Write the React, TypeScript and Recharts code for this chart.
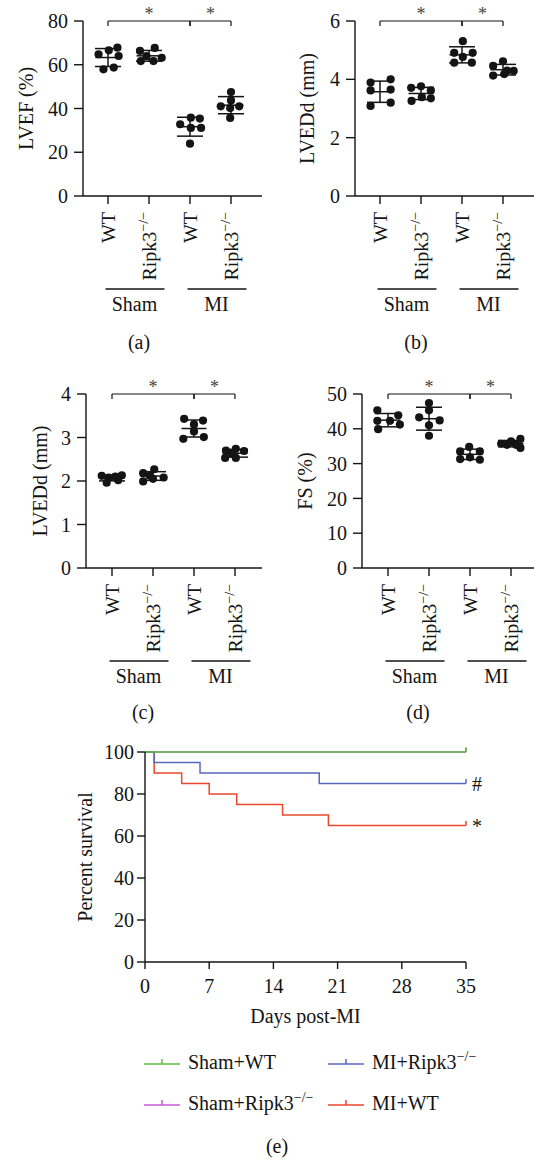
import React from "react";
import {
  ComposedChart,
  Scatter,
  ErrorBar,
  XAxis,
  YAxis,
  ReferenceLine,
  LineChart,
  Line,
  ReferenceDot,
} from "recharts";

const FONT = "'Liberation Serif', 'Times New Roman', serif";
const INK = "#141414";

// group order on every dot plot: Sham WT, Sham Ripk3, MI WT, MI Ripk3
const genotypes = ["WT", "Ripk3", "WT", "Ripk3"];
const conditions = ["Sham", "MI"];
const comparisons = [
  [1, 3],
  [3, 4],
];

// (a) LVEF %
const lvefValues = [
  [64.8, 66.6, 67.8, 64.0, 57.9, 58.7],
  [66.3, 67.7, 63.9, 63.2, 61.7, 61.7],
  [32.8, 35.8, 35.4, 31.1, 31.1, 23.9],
  [47.5, 43.7, 41.0, 41.0, 40.2, 35.7],
];
const lvefSpread = [
  [-0.23, 0.02, 0.23, 0.26, -0.11, 0.14],
  [-0.22, 0.14, -0.06, 0.31, -0.2, 0.11],
  [-0.24, 0.02, 0.24, 0.02, 0.27, 0.0],
  [0.0, 0.0, -0.25, 0.2, -0.02, -0.02],
];

// (b) LVEDd mm
const lvedValues = [
  [3.89, 4.0, 3.62, 3.65, 3.09, 3.2],
  [3.71, 3.76, 3.62, 3.26, 3.39, 3.35],
  [5.31, 4.91, 4.91, 4.77, 4.57, 4.57],
  [4.62, 4.46, 4.29, 4.13, 4.18, 4.3],
];
const lvedSpread = [
  [-0.23, 0.26, -0.23, 0.26, -0.23, 0.26],
  [-0.24, 0.0, 0.24, -0.23, 0.02, 0.24],
  [0.02, -0.19, 0.26, 0.02, -0.19, 0.24],
  [0.0, -0.24, 0.26, -0.24, 0.03, 0.1],
];

// (c) LVEDd mm
const lved2Values = [
  [2.12, 2.08, 2.1, 2.13, 1.96, 2.02],
  [2.18, 2.27, 2.12, 2.08, 1.99, 2.05],
  [3.43, 3.39, 3.3, 3.14, 2.97, 3.01],
  [2.7, 2.74, 2.69, 2.64, 2.53, 2.53],
];
const lved2Spread = [
  [-0.25, -0.08, 0.08, 0.24, -0.13, 0.15],
  [-0.24, 0.03, -0.08, 0.26, -0.24, 0.0],
  [-0.24, 0.22, 0.0, 0.0, -0.26, 0.24],
  [-0.22, 0.02, 0.22, -0.1, -0.24, 0.02],
];

// (d) FS %
const fsValues = [
  [45.3, 42.3, 39.9, 42.3, 43.9, 41.2],
  [47.4, 45.3, 43.3, 42.4, 41.0, 38.0],
  [34.8, 33.5, 33.5, 31.8, 31.3, 31.1],
  [35.7, 36.4, 37.1, 35.4, 35.4, 34.5],
];
const fsSpread = [
  [-0.26, -0.26, -0.24, 0.05, 0.25, 0.29],
  [0.0, 0.0, -0.24, 0.26, 0.0, 0.0],
  [-0.02, -0.24, 0.24, 0.0, -0.24, 0.24],
  [-0.24, 0.0, 0.23, -0.1, 0.12, 0.23],
];

// (e) survival
const dayTicks = [0, 7, 14, 21, 28, 35];
const survTicks = [0, 20, 40, 60, 80, 100];
const survivalSeries = [
  { name: "Sham+WT", sup: false, color: "#5cbf3f", days: [0, 35], surv: [100, 100], note: "" },
  { name: "Sham+Ripk3", sup: true, color: "#c45ad2", days: [0, 35], surv: [100, 100], note: "" },
  { name: "MI+Ripk3", sup: true, color: "#5868bd", days: [0, 1, 6, 19, 35], surv: [100, 95, 90, 85, 85], note: "#" },
  {
    name: "MI+WT",
    sup: false,
    color: "#e8482f",
    days: [0, 1, 4, 7, 10, 15, 20, 35],
    surv: [100, 90, 85, 80, 75, 70, 65, 65],
    note: "*",
  },
];
const drawOrder = [1, 3, 2, 0];

const mean = (a: number[]) => a.reduce((s, v) => s + v, 0) / a.length;
const sd = (a: number[]) => {
  const m = mean(a);
  return Math.sqrt(a.reduce((s, v) => s + (v - m) ** 2, 0) / (a.length - 1));
};

const GAP = 41; // px between group centres

function DotPanel(props: any) {
  const { left, top, width, height, axisX, plotTop, plotH, firstTick, plotW, yLabel, yLabelX, yTicks, values, spread } =
    props;
  const yMax = yTicks[yTicks.length - 1];
  const x0 = 1 - (firstTick - axisX) / GAP;
  const x1 = x0 + plotW / GAP;
  const points = values.flatMap((g: number[], gi: number) =>
    g.map((v, i) => ({ x: gi + 1 + spread[gi][i], y: v }))
  );
  const summary = values.map((g: number[], gi: number) => ({ x: gi + 1, y: mean(g), sd: sd(g) }));
  const drop = (yMax * 5) / plotH;

  const CatTick = (t: any) => {
    const { x, y, payload } = t;
    const v = payload.value;
    if (!Number.isInteger(v)) {
      const name = conditions[Math.floor(v) === 1 ? 0 : 1];
      return (
        <g>
          <line x1={x - 23} x2={x + 36} y1={y + 93} y2={y + 93} stroke={INK} strokeWidth={1.4} />
          <text x={x + 6} y={y + 115} textAnchor="middle" fontSize={20} fill={INK} fontFamily={FONT}>
            {name}
          </text>
        </g>
      );
    }
    const label = genotypes[v - 1];
    return (
      <g>
        <line x1={x} x2={x} y1={y} y2={y + 8} stroke={INK} strokeWidth={1.4} />
        <text
          transform={`translate(${x + 7},${y + 16}) rotate(-90)`}
          textAnchor="end"
          fontSize={20}
          fill={INK}
          fontFamily={FONT}
          style={{ textRendering: "geometricPrecision" }}
        >
          {label}
          {label === "Ripk3" && (
            <tspan dy={-8} fontSize={14} fill={INK}>
              −/−
            </tspan>
          )}
        </text>
      </g>
    );
  };

  return (
    <div style={{ position: "absolute", left, top }}>
      <ComposedChart
        width={width}
        height={height}
        margin={{ top: plotTop, right: width - axisX - plotW, bottom: 0, left: 0 }}
      >
        <XAxis
          type="number"
          dataKey="x"
          domain={[x0, x1]}
          ticks={[1, 1.5, 2, 3, 3.5, 4]}
          interval={0}
          tickLine={false}
          tickSize={0}
          tickMargin={0}
          height={height - plotTop - plotH}
          axisLine={{ stroke: INK, strokeWidth: 1.4 }}
          tick={<CatTick />}
        />
        <YAxis
          type="number"
          dataKey="y"
          domain={[0, yMax]}
          ticks={yTicks}
          width={axisX}
          tickSize={9}
          tickMargin={6}
          axisLine={{ stroke: INK, strokeWidth: 1.4 }}
          tickLine={{ stroke: INK, strokeWidth: 1.4 }}
          tick={{ fontSize: 20, fill: INK, fontFamily: FONT }}
          label={{
            value: yLabel,
            angle: -90,
            position: "insideLeft",
            offset: yLabelX,
            style: { textAnchor: "middle", fontSize: 20, fill: INK, fontFamily: FONT },
          }}
        />
        {comparisons.map(([a, b], i) => (
          <ReferenceLine
            key={`h${i}`}
            segment={[
              { x: a, y: yMax },
              { x: b, y: yMax },
            ]}
            stroke={INK}
            strokeWidth={1.2}
            ifOverflow="visible"
            label={{ value: "*", position: "top", offset: 1, fontSize: 18, fill: "#444", fontFamily: FONT }}
          />
        ))}
        {comparisons.flat().map((g, i) => (
          <ReferenceLine
            key={`v${i}`}
            segment={[
              { x: g, y: yMax },
              { x: g, y: yMax - drop },
            ]}
            stroke={INK}
            strokeWidth={1.2}
            ifOverflow="visible"
          />
        ))}
        <Scatter
          data={points}
          isAnimationActive={false}
          shape={(p: any) => <circle cx={p.cx} cy={p.cy} r={4.1} fill={INK} />}
        />
        <Scatter
          data={summary}
          isAnimationActive={false}
          shape={(p: any) => (
            <line x1={p.cx - 12.5} x2={p.cx + 12.5} y1={p.cy} y2={p.cy} stroke={INK} strokeWidth={1.5} />
          )}
        >
          <ErrorBar dataKey="sd" direction="y" width={13} stroke={INK} strokeWidth={1.5} isAnimationActive={false} />
        </Scatter>
      </ComposedChart>
    </div>
  );
}

function SurvivalPanel() {
  return (
    <div style={{ position: "absolute", left: 0, top: 740 }}>
      <LineChart width={534} height={300} margin={{ top: 12, right: 68, bottom: 0, left: 0 }}>
        <XAxis
          type="number"
          dataKey="day"
          domain={[0, 35]}
          ticks={dayTicks}
          interval={0}
          height={78}
          tickSize={7}
          tickMargin={10}
          axisLine={{ stroke: INK, strokeWidth: 1.4 }}
          tickLine={{ stroke: INK, strokeWidth: 1.4 }}
          tick={{ fontSize: 20, fill: INK, fontFamily: FONT }}
          label={{
            value: "Days post-MI",
            position: "insideBottom",
            offset: 17,
            style: { fontSize: 20, fill: INK, fontFamily: FONT },
          }}
        />
        <YAxis
          type="number"
          domain={[0, 100]}
          ticks={survTicks}
          width={145}
          tickSize={8}
          tickMargin={3}
          axisLine={{ stroke: INK, strokeWidth: 1.4 }}
          tickLine={{ stroke: INK, strokeWidth: 1.4 }}
          tick={{ fontSize: 20, fill: INK, fontFamily: FONT }}
          label={{
            value: "Percent survival",
            angle: -90,
            position: "insideLeft",
            offset: 85,
            style: { textAnchor: "middle", fontSize: 20, fill: INK, fontFamily: FONT },
          }}
        />
        {drawOrder.map((si) => {
          const s = survivalSeries[si];
          const data = s.days.map((d, i) => ({ day: d, surv: s.surv[i] }));
          const last = data.length - 1;
          return (
            <Line
              key={s.name}
              data={data}
              dataKey="surv"
              type="stepAfter"
              stroke={s.color}
              strokeWidth={1.5}
              isAnimationActive={false}
              dot={(p: any) =>
                p.index === last ? (
                  <line key={p.index} x1={p.cx} x2={p.cx} y1={p.cy} y2={p.cy - 4.5} stroke={s.color} strokeWidth={1.5} />
                ) : (
                  <g key={p.index} />
                )
              }
              activeDot={false}
            />
          );
        })}
        {survivalSeries
          .filter((s) => s.note)
          .map((s) => (
            <ReferenceDot
              key={s.note}
              x={35}
              y={s.surv[s.surv.length - 1]}
              r={0}
              fill="none"
              stroke="none"
              ifOverflow="visible"
              label={{ value: s.note, position: "right", offset: 6, fontSize: 20, fill: INK, fontFamily: FONT }}
            />
          ))}
      </LineChart>
    </div>
  );
}

const panelLetters = [
  { text: "(a)", x: 139, y: 349 },
  { text: "(b)", x: 416, y: 349 },
  { text: "(c)", x: 143, y: 719 },
  { text: "(d)", x: 418, y: 719 },
  { text: "(e)", x: 277, y: 1153 },
];
const legendCols = [144, 328];
const legendRows = [1069, 1110];

function Overlay() {
  return (
    <svg
      width={534}
      height={1159}
      style={{ position: "absolute", left: 0, top: 0, pointerEvents: "none" }}
      fontFamily={FONT}
    >
      {panelLetters.map((p) => (
        <text key={p.text} x={p.x} y={p.y} textAnchor="middle" fontSize={20} fill={INK}>
          {p.text}
        </text>
      ))}
      {survivalSeries.map((s, i) => {
        const lx = legendCols[Math.floor(i / 2)];
        const by = legendRows[i % 2];
        return (
          <g key={s.name}>
            <line x1={lx} x2={lx + 36} y1={by - 5} y2={by - 5} stroke={s.color} strokeWidth={1.5} />
            <line x1={lx + 18} x2={lx + 18} y1={by - 5} y2={by - 10} stroke={s.color} strokeWidth={1.5} />
            <text x={lx + 44} y={by} fontSize={20} fill={INK}>
              {s.name}
              {s.sup && (
                <tspan dy={-8} fontSize={14}>
                  −/−
                </tspan>
              )}
            </text>
          </g>
        );
      })}
    </svg>
  );
}

export default function App() {
  return (
    <div
      style={{
        position: "absolute",
        left: 0,
        top: 0,
        width: 534,
        height: 1159,
        background: "#fff",
        fontFamily: FONT,
        overflow: "hidden",
      }}
    >
      <DotPanel
        left={0}
        top={0}
        width={267}
        height={330}
        axisX={83}
        plotTop={21}
        plotH={175}
        firstTick={108}
        plotW={179}
        yLabel="LVEF (%)"
        yLabelX={26}
        yTicks={[0, 20, 40, 60, 80]}
        values={lvefValues}
        spread={lvefSpread}
      />
      <DotPanel
        left={267}
        top={0}
        width={267}
        height={330}
        axisX={88}
        plotTop={21}
        plotH={175}
        firstTick={113}
        plotW={179}
        yLabel="LVEDd (mm)"
        yLabelX={40}
        yTicks={[0, 2, 4, 6]}
        values={lvedValues}
        spread={lvedSpread}
      />
      <DotPanel
        left={0}
        top={370}
        width={267}
        height={332}
        axisX={86}
        plotTop={24}
        plotH={174}
        firstTick={112}
        plotW={176}
        yLabel="LVEDd (mm)"
        yLabelX={40}
        yTicks={[0, 1, 2, 3, 4]}
        values={lved2Values}
        spread={lved2Spread}
      />
      <DotPanel
        left={267}
        top={370}
        width={267}
        height={332}
        axisX={95}
        plotTop={24}
        plotH={174}
        firstTick={121}
        plotW={172}
        yLabel="FS (%)"
        yLabelX={38}
        yTicks={[0, 10, 20, 30, 40, 50]}
        values={fsValues}
        spread={fsSpread}
      />
      <SurvivalPanel />
      <Overlay />
    </div>
  );
}
